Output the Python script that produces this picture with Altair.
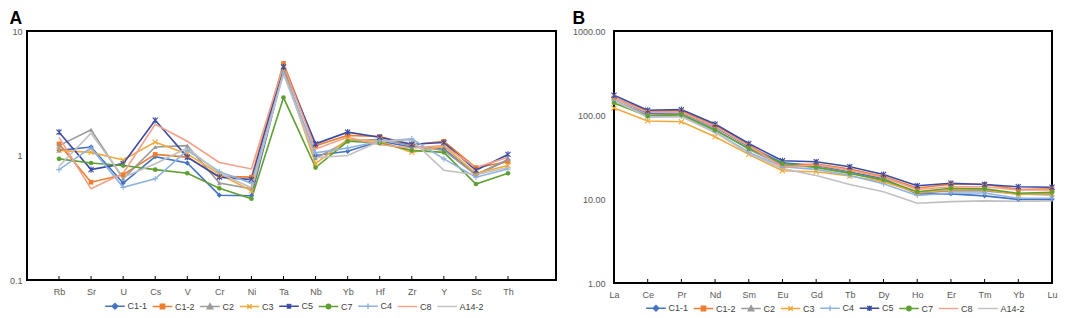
import altair as alt
import pandas as pd

FONT = "Liberation Sans"

# ---------------- Panel A data ----------------
ELEM_A = ["Rb", "Sr", "U", "Cs", "V", "Cr", "Ni", "Ta", "Nb", "Yb", "Hf", "Zr", "Y", "Sc", "Th"]
SERIES_A = ["C1-1", "C1-2", "C2", "C3", "C5", "C7", "C4", "C8", "A14-2"]
A_C1_1 = [1.10, 1.17, 0.60, 0.98, 0.87, 0.48, 0.475, 4.8, 1.00, 1.08, 1.30, 1.17, 1.13, 0.70, 0.92]
A_C1_2 = [1.24, 0.61, 0.70, 1.02, 0.97, 0.68, 0.67, 5.5, 1.20, 1.45, 1.42, 1.22, 1.30, 0.80, 0.89]
A_C2 = [1.20, 1.61, 0.65, 1.17, 1.20, 0.60, 0.54, 4.7, 0.95, 1.30, 1.35, 1.20, 1.10, 0.70, 0.93]
A_C3 = [1.10, 1.06, 0.92, 1.28, 1.03, 0.71, 0.52, 4.9, 0.86, 1.35, 1.30, 1.06, 1.19, 0.72, 0.83]
A_C5 = [1.54, 0.77, 0.86, 1.92, 0.97, 0.67, 0.64, 5.15, 1.24, 1.54, 1.40, 1.23, 1.27, 0.76, 1.02]
A_C7 = [0.94, 0.87, 0.83, 0.77, 0.72, 0.545, 0.45, 2.92, 0.80, 1.30, 1.26, 1.10, 1.06, 0.59, 0.72]
A_C4 = [0.77, 1.15, 0.555, 0.65, 1.10, 0.74, 0.60, 4.6, 1.05, 1.15, 1.30, 1.36, 0.94, 0.67, 0.78]
A_C8 = [1.40, 0.54, 0.72, 1.78, 1.30, 0.88, 0.78, 5.3, 1.13, 1.40, 1.22, 1.15, 1.20, 0.80, 0.97]
A_A14_2 = [0.82, 1.51, 0.67, 0.86, 1.15, 0.72, 0.55, 4.5, 0.96, 1.00, 1.30, 1.33, 0.76, 0.70, 0.80]
TABLE_A = {"C1-1": A_C1_1, "C1-2": A_C1_2, "C2": A_C2, "C3": A_C3, "C5": A_C5,
           "C7": A_C7, "C4": A_C4, "C8": A_C8, "A14-2": A_A14_2}
YTICKS_A = [0.1, 1, 10]

# ---------------- Panel B data ----------------
ELEM_B = ["La", "Ce", "Pr", "Nd", "Sm", "Eu", "Gd", "Tb", "Dy", "Ho", "Er", "Tm", "Yb", "Lu"]
SERIES_B = ["C1-1", "C1-2", "C2", "C3", "C4", "C5", "C7", "C8", "A14-2"]
B_C1_1 = [160, 105, 106, 72, 42, 27.0, 25.0, 21.0, 17.5, 11.5, 11.5, 10.9, 9.9, 9.9]
B_C1_2 = [160, 111, 112, 75, 44, 25.0, 26.0, 22.7, 18.5, 13.5, 15.0, 15.0, 13.0, 13.2]
B_C2 = [150, 100, 102, 68, 39, 25.0, 24.0, 20.5, 16.5, 11.7, 12.5, 12.5, 11.5, 11.2]
B_C3 = [121, 85, 83, 55, 34, 21.7, 21.1, 18.8, 16.0, 12.0, 13.0, 13.0, 11.3, 11.6]
B_C4 = [150, 95, 97, 63, 36, 24.2, 22.5, 19.0, 15.2, 11.0, 11.8, 11.8, 10.2, 10.2]
B_C5 = [172, 114, 116, 78, 45.7, 28.5, 27.8, 24.2, 19.6, 14.4, 15.4, 14.9, 14.0, 13.8]
B_C7 = [139, 97, 101, 66, 40, 26.5, 23.8, 20.2, 16.9, 12.2, 13.4, 13.2, 11.7, 12.0]
B_C8 = [158, 108, 108, 73, 43, 24.0, 25.5, 22.0, 18.0, 13.0, 14.0, 14.0, 12.8, 12.8]
B_A14_2 = [148, 95, 95, 62, 34.8, 23.0, 19.0, 14.9, 12.2, 8.9, 9.3, 9.5, 9.4, 9.5]
TABLE_B = {"C1-1": B_C1_1, "C1-2": B_C1_2, "C2": B_C2, "C3": B_C3, "C4": B_C4,
           "C5": B_C5, "C7": B_C7, "C8": B_C8, "A14-2": B_A14_2}
YTICKS_B = [1, 10, 100, 1000]

# ---------------- styles ----------------
COLORS = {"C1-1": "#4472C4", "C1-2": "#ED7D31", "C2": "#9A9A9A", "C3": "#F2A93B",
          "C5": "#3B4BA5", "C7": "#5FA033", "C4": "#8FB3E0", "C8": "#F4A08A",
          "A14-2": "#C0C0C0"}

X_PATH = "M-1,-1L1,1M-1,1L1,-1"
STAR_PATH = "M-1,-1L1,1M-1,1L1,-1M0,-1.2L0,1.2"
PLUS_PATH = "M-1.1,0L1.1,0M0,-1.1L0,1.1"
# (shape, filled, size)
MARKERS = {"C1-1": ("diamond", True, 28), "C1-2": ("square", True, 22),
           "C2": ("triangle-up", True, 22), "C3": (X_PATH, False, 26),
           "C5": (STAR_PATH, False, 26), "C7": ("circle", True, 22),
           "C4": (PLUS_PATH, False, 26)}

LINE = "M-2.45,0L2.45,0"
LEG_PATHS = {
    "C1-1": LINE + "M0,-0.7L0.7,0L0,0.7L-0.7,0Z",
    "C1-2": LINE + "M-0.55,-0.55L0.55,-0.55L0.55,0.55L-0.55,0.55Z",
    "C2": LINE + "M0,-0.7L0.7,0.55L-0.7,0.55Z",
    "C3": LINE + "M-0.55,-0.55L0.55,0.55M-0.55,0.55L0.55,-0.55",
    "C5": LINE + "M-0.55,-0.55L0.55,0.55M-0.55,0.55L0.55,-0.55M0,-0.65L0,0.65",
    "C7": LINE + "M0.55,0A0.55,0.55,0,1,1,-0.55,0A0.55,0.55,0,1,1,0.55,0Z",
    "C4": LINE + "M0,-0.7L0,0.7",
    "C8": LINE,
    "A14-2": LINE,
}


def long_df(elems, series, table):
    rows = []
    for s in series:
        for i, (e, v) in enumerate(zip(elems, table[s])):
            rows.append({"series": s, "element": e, "idx": i, "value": v})
    return pd.DataFrame(rows)


def panel(elems, series, table, ydomain, yticks, yfmt, xscale, width, height,
          title, ylabpad, legx, legy):
    df = long_df(elems, series, table)
    x = alt.X("element:N", sort=elems, scale=xscale,
              axis=alt.Axis(title=None, labelAngle=0, domain=False, ticks=False,
                            tickSize=0, labelPadding=7, grid=False))
    yscale = alt.Scale(type="log", domain=ydomain, nice=False)
    yaxis = alt.Axis(title=None, values=yticks, format=yfmt, domain=False,
                     ticks=False, tickSize=0, grid=False, labelPadding=ylabpad)
    y = alt.Y("value:Q", scale=yscale, axis=yaxis)
    col_range = [COLORS[s] for s in series]
    base = alt.Chart(df)

    layers = []
    for s in series:
        layers.append(
            base.transform_filter(alt.datum.series == s)
            .mark_line(strokeWidth=1.6, color=COLORS[s])
            .encode(x=x, y=y, order="idx:Q")
        )
    for s in series:
        if s in MARKERS:
            shp, filled, size = MARKERS[s]
            layers.append(
                base.transform_filter(alt.datum.series == s)
                .mark_point(shape=shp, filled=filled, size=size, strokeWidth=1.1,
                            opacity=1, color=COLORS[s])
                .encode(x=x, y=y)
            )

    tick_df = pd.DataFrame({"element": elems, "lo": [ydomain[0]] * len(elems)})
    ticks = alt.Chart(tick_df).mark_rule(color="black", strokeWidth=1, y2Offset=-4).encode(
        x=x, y=alt.Y("lo:Q", scale=yscale, axis=yaxis), y2="lo:Q")
    layers.append(ticks)

    leg = alt.Legend(orient="none", legendX=legx, legendY=legy, direction="horizontal",
                     title=None, symbolSize=64, symbolStrokeWidth=1.4, labelOffset=7.4,
                     columnPadding=2.5, labelFontSize=9, labelColor="#404040",
                     labelFont=FONT, padding=0)
    legend_layer = base.transform_filter("false").mark_point(
        size=64, strokeWidth=1.4, opacity=1).encode(
        x=x, y=y,
        fill=alt.Fill("series:N", scale=alt.Scale(domain=series, range=col_range), legend=leg),
        stroke=alt.Stroke("series:N", scale=alt.Scale(domain=series, range=col_range), legend=leg),
        shape=alt.Shape("series:N", scale=alt.Scale(domain=series,
                                                    range=[LEG_PATHS[s] for s in series]),
                        legend=leg),
    )
    layers.append(legend_layer)

    return alt.layer(*layers).properties(
        width=width, height=height,
        title=alt.TitleParams(title, anchor="start", frame="bounds", fontSize=17.5,
                              fontWeight="bold", font=FONT, color="black", offset=0),
    )


pa = panel(ELEM_A, SERIES_A, TABLE_A, [0.1, 10], YTICKS_A, "~g",
           alt.Scale(type="point", range=[32, 481], padding=0), 529, 249, "A", 5, 83, 270)
pb = panel(ELEM_B, SERIES_B, TABLE_B, [1, 1000], YTICKS_B, ".2f",
           alt.Scale(type="point", padding=0), 438, 252, "B", 9, 37, 272)

chart = alt.hconcat(
    pa, pb, spacing=14, padding=0
).resolve_scale(
    fill="independent", stroke="independent", shape="independent"
).configure_view(
    stroke="black", strokeWidth=2
).configure_axis(
    labelFont=FONT, labelFontSize=9, labelColor="#595959"
)

chart.save("out.html", embed_options={"renderer": "svg", "actions": False})
